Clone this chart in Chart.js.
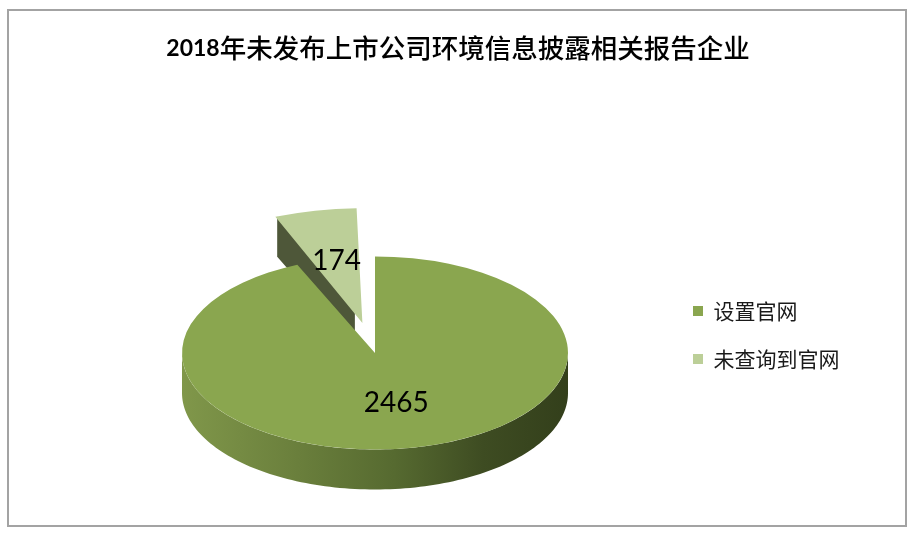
<!DOCTYPE html>
<html><head><meta charset="utf-8">
<script src="https://cdn.jsdelivr.net/npm/chart.js@4.4.1/dist/chart.umd.min.js"></script>
<style>html,body{margin:0;padding:0;background:#fff;overflow:hidden}canvas{display:block}</style>
</head><body>
<canvas id="c" width="915" height="537" style="width:915px;height:537px"></canvas>
<script>
// ---- data ----
const titleYear = '2018';
const titleText = '年未发布上市公司环境信息披露相关报告企业';
const categories = ['设置官网', '未查询到官网'];
const values = [2465, 174];
const explodeOffsets = [0, 245];

// ---- styles ----
const topColors = ['#8aa64f', '#bccf98'];
const radialWallColors = ['#55632f', '#4e5739'];
const TILT = 0.5, DEPTH = 40;

function arcGeom(el) {
  const p = el.getProps(['x', 'y', 'startAngle', 'endAngle', 'outerRadius'], true);
  const off = (el.options.offset || 0) / 4;
  const circ = p.endAngle - p.startAngle;
  const fix = 1 - Math.sin(Math.min(Math.PI, circ));
  const d = off * (1 + fix);
  const half = (p.startAngle + p.endAngle) / 2;
  return {x: p.x, y: p.y, ox: p.x + Math.cos(half) * d, oy: p.y + Math.sin(half) * d,
          r: p.outerRadius, a0: p.startAngle, a1: p.endAngle, half, d};
}

const pie3d = {
  id: 'pie3d',
  beforeDraw(chart) {
    const ctx = chart.ctx;
    ctx.save();
    ctx.strokeStyle = '#a3a3a3';
    ctx.lineWidth = 2;
    ctx.strokeRect(8, 10, 898, 516);
    ctx.restore();
  },
  beforeDatasetsDraw(chart) {
    const ctx = chart.ctx;
    const els = chart.getDatasetMeta(0).data;
    const pcx = els[0].x, pcy = els[0].y;
    const P = (ux, uy) => [ux, pcy + TILT * (uy - pcy)];
    ctx.save();
    for (let i = els.length - 1; i >= 0; i--) {
      const g = arcGeom(els[i]);
      // radial walls
      [[g.a0, -1], [g.a1, 1]].forEach(([a, s]) => {
        const nA = a + s * Math.PI / 2;
        if (Math.sin(nA) > 0.02) {
          const c = P(g.ox, g.oy);
          const e = P(g.ox + g.r * Math.cos(a), g.oy + g.r * Math.sin(a));
          ctx.beginPath();
          ctx.moveTo(c[0], c[1]);
          ctx.lineTo(e[0], e[1]);
          ctx.lineTo(e[0], e[1] + DEPTH);
          ctx.lineTo(c[0], c[1] + DEPTH);
          ctx.closePath();
          ctx.fillStyle = radialWallColors[i];
          ctx.fill();
        }
      });
      // outer curved wall (front half only)
      for (let k = -1; k <= 1; k++) {
        const t0 = Math.max(g.a0, 2 * Math.PI * k);
        const t1 = Math.min(g.a1, 2 * Math.PI * k + Math.PI);
        if (t1 <= t0) continue;
        const steps = 120;
        ctx.beginPath();
        for (let j = 0; j <= steps; j++) {
          const t = t0 + (t1 - t0) * j / steps;
          const q = P(g.ox + g.r * Math.cos(t), g.oy + g.r * Math.sin(t));
          j === 0 ? ctx.moveTo(q[0], q[1]) : ctx.lineTo(q[0], q[1]);
        }
        for (let j = steps; j >= 0; j--) {
          const t = t0 + (t1 - t0) * j / steps;
          const q = P(g.ox + g.r * Math.cos(t), g.oy + g.r * Math.sin(t));
          ctx.lineTo(q[0], q[1] + DEPTH);
        }
        ctx.closePath();
        const grad = ctx.createLinearGradient(g.ox - g.r, 0, g.ox + g.r, 0);
        grad.addColorStop(0, '#80974a');
        grad.addColorStop(0.3, '#6a7f3c');
        grad.addColorStop(0.55, '#566a30');
        grad.addColorStop(0.78, '#3e4c22');
        grad.addColorStop(1, '#333f1b');
        ctx.fillStyle = grad;
        ctx.fill();
      }
    }
    ctx.restore();
    // tilt the top faces drawn by Chart.js
    ctx.save();
    ctx.translate(0, pcy);
    ctx.scale(1, TILT);
    ctx.translate(0, -pcy);
  },
  afterDatasetsDraw(chart) {
    const ctx = chart.ctx;
    ctx.restore();
    const els = chart.getDatasetMeta(0).data;
    const pcy = els[0].y;
    ctx.save();
    ctx.font = '28px Lato';
    ctx.fillStyle = '#000';
    ctx.textAlign = 'center';
    ctx.textBaseline = 'middle';
    els.forEach((el, i) => {
      const g = arcGeom(el);
      const rm = g.r / 2;
      const ux = g.ox + Math.cos(g.half) * rm;
      const uy = g.oy + Math.sin(g.half) * rm;
      ctx.fillText(String(values[i]), ux + 1.5, pcy + TILT * (uy - pcy) + 3);
    });
    ctx.restore();
  },
  afterDraw(chart) {
    const ctx = chart.ctx;
    ctx.save();
    const f1 = 'bold 23px Lato';
    const f2 = '500 26.5px "Noto Sans CJK SC"';
    ctx.font = f1; const w1 = ctx.measureText(titleYear).width;
    ctx.font = f2; const w2 = ctx.measureText(titleText).width;
    const x0 = 458 - (w1 + w2) / 2;
    ctx.textBaseline = 'middle';
    ctx.fillStyle = '#000';
    ctx.font = f1; ctx.fillText(titleYear, x0, 49);
    ctx.font = f2; ctx.fillText(titleText, x0 + w1, 48);
    ctx.restore();
  }
};

new Chart(document.getElementById('c'), {
  type: 'pie',
  data: {
    labels: categories,
    datasets: [{
      data: values,
      backgroundColor: topColors,
      borderWidth: 0,
      offset: explodeOffsets,
      radius: 193,
      clip: false
    }]
  },
  options: {
    responsive: false,
    animation: false,
    events: [],
    layout: {padding: {left: 84, right: 65.5, top: 180, bottom: 11}},
    plugins: {
      title: {display: false},
      tooltip: {enabled: false},
      legend: {
        position: 'right',
        align: 'start',
        fullSize: false,
        title: {display: true, text: '', font: {size: 10, lineHeight: 1}, padding: {top: 83.5, bottom: 0}},
        labels: {
          boxWidth: 10, boxHeight: 10, padding: 27, color: '#1a1a1a',
          font: {family: '"Noto Sans CJK SC"', size: 21}
        }
      }
    }
  },
  plugins: [pie3d]
});
</script>
</body></html>
